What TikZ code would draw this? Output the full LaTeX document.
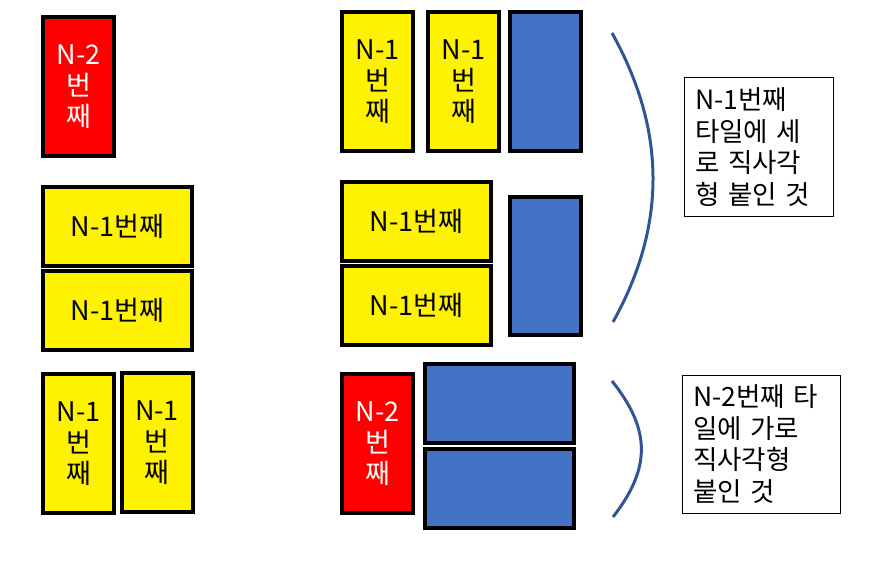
\documentclass[tikz,border=0pt]{standalone}
\usepackage{fontspec}
\newfontfamily\krfont{Noto Sans CJK KR}
\usepackage{xcolor}
\usetikzlibrary{positioning}
\definecolor{tileblue}{HTML}{4472C4}
\definecolor{bracecol}{HTML}{2F5597}

\begin{document}
\begin{tikzpicture}[
    x=1pt, y=-1pt,
    tile/.style={draw=black, line width=4pt, inner sep=0pt, align=center,
                 font=\krfont\fontsize{27}{31}\selectfont},
    tall/.style={minimum width=71pt, minimum height=139pt},
    wide/.style={minimum width=149pt, minimum height=79pt},
    redtile/.style={tile, fill=red, text=white},
    yeltile/.style={tile, fill=yellow},
    bluetile/.style={tile, fill=tileblue},
    note/.style={draw=black, line width=1pt, inner xsep=11pt, inner ysep=0pt,
                 align=left, minimum height=138pt,
                 font=\krfont\fontsize{26.5}{31.5}\selectfont},
    brace/.style={bracecol, line width=3pt},
]
\useasboundingbox (0,0) rectangle (877,588);

% --- left column: the pieces ---
\node[redtile, tall] (red1) at (78.5,86.5) {N-2\\번\\째};
\node[yeltile, wide] (yw1) at (117.5,226.5) {N-1번째};
\node[yeltile, wide] (yw2) at (117.5,310.5) {N-1번째};
\node[yeltile, tall] (yt1) at (78.5,443.5) {N-1\\번\\째};
\node[yeltile, tall] (yt2) at (157,442.5)  {N-1\\번\\째};

% --- middle column: pieces with the added rectangles ---
\node[yeltile, tall]  (yt3) at (377.5,81.5) {N-1\\번\\째};
\node[yeltile, tall]  (yt4) at (463.5,81.5) {N-1\\번\\째};
\node[bluetile, tall] (bt1) at (545.5,81.5) {};
\node[yeltile, wide]  (yw3) at (416.5,221)   {N-1번째};
\node[yeltile, wide]  (yw4) at (416.5,305.5) {N-1번째};
\node[bluetile, tall, minimum height=138pt] (bt2) at (545.5,266) {};
\node[redtile, tall]  (red2) at (377.5,443.5) {N-2\\번\\째};
\node[bluetile, wide] (bw1) at (499.5,403.5) {};
\node[bluetile, wide] (bw2) at (499.5,488.5) {};

% --- braces ---
\coordinate (b1s) at (612,33);
\coordinate (b1e) at (613,322);
\coordinate (b2s) at (612,381);
\coordinate (b2e) at (613,517);
\draw[brace] (b1s) .. controls (666,130) and (667,225) .. (b1e);
\draw[brace] (b2s) .. controls (651,430) and (651,468) .. (b2e);

% --- notes ---
\node[note, text width=127pt] (note1) at (758.5,147)
      {N-1번째\\타일에 세\\로 직사각\\형 붙인 것};
\node[note, text width=136pt] (note2) at (761,444)
      {N-2번째 타\\일에 가로\\직사각형\\붙인 것};
\end{tikzpicture}
\end{document}
